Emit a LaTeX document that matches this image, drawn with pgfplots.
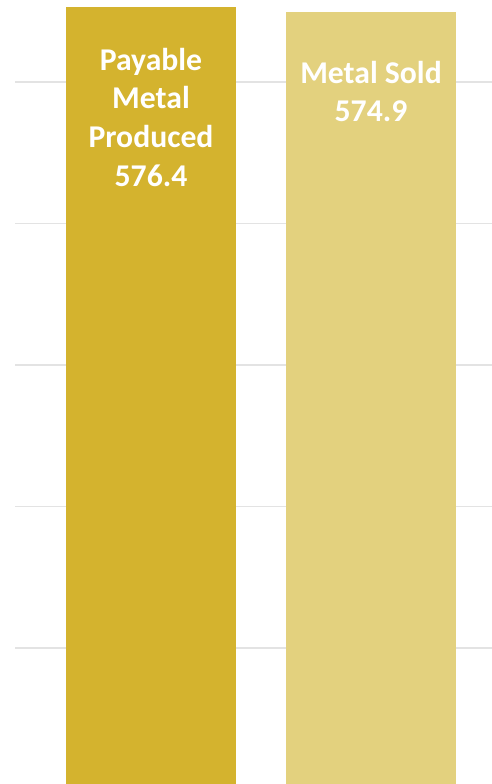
\documentclass[border=0pt]{standalone}
\usepackage{pgfplots}
\pgfplotsset{compat=1.18}
\usepackage{fontspec}
\setmainfont{Carlito}
\definecolor{barone}{HTML}{D4B32E}
\definecolor{bartwo}{HTML}{E3D17E}
\definecolor{gridgray}{HTML}{E3E3E3}

\begin{document}
\begin{tikzpicture}
\begin{axis}[
  scale only axis,
  width=477bp, height=784bp,
  xmin=-0.6182, xmax=1.55,
  ymin=301.9, ymax=579,
  ybar, bar shift=0pt, bar width=0.7727,
  xtick=\empty,
  ytick={350,400,450,500,550},
  yticklabels={},
  ymajorgrids=true,
  grid style={gridgray, line width=1.6bp},
  axis line style={draw=none},
  major tick length=0pt,
]
  \addplot[fill=barone, draw=none] coordinates {(0,576.4)};
  \addplot[fill=bartwo, draw=none] coordinates {(1,574.9)};

  \coordinate (bl) at (rel axis cs:0,0);
  \coordinate (tr) at (rel axis cs:1,1);

  \begin{scope}[every node/.style={text=white, anchor=base, inner sep=0pt,
      font=\fontsize{31.8}{38.7}\selectfont\bfseries}]
    \node at (axis cs:0,554.17) {Payable};
    \node at (axis cs:0,540.49) {Metal};
    \node at (axis cs:0,526.82) {Produced};
    \node at (axis cs:0,513.14) {576.4};
    \node at (axis cs:1,549.43) {Metal Sold};
    \node at (axis cs:1,535.90) {574.9};
  \end{scope}
\end{axis}
\pgfresetboundingbox
\path ([xshift=-15bp]bl) rectangle (tr);
\end{tikzpicture}
\end{document}
